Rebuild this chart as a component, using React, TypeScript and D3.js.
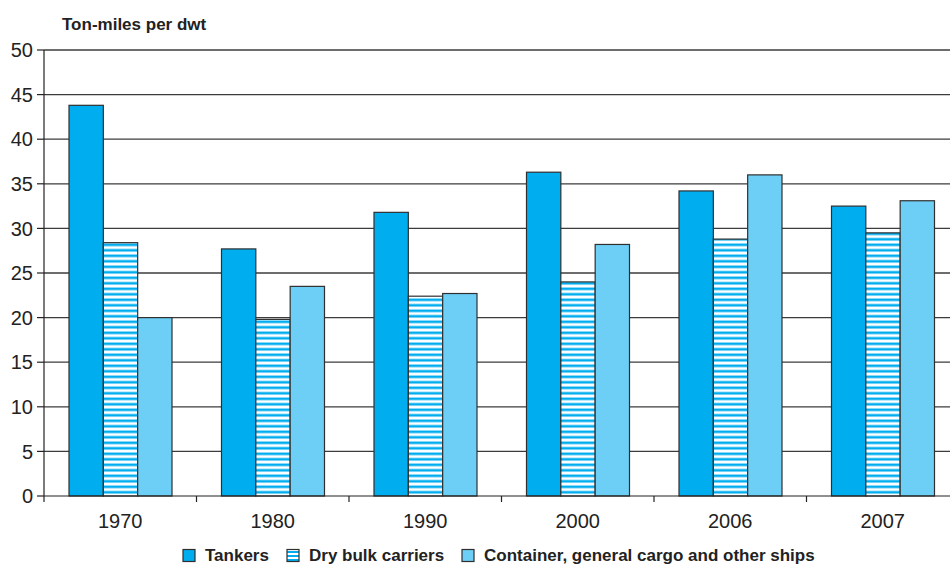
import React from "react";
import { scaleBand, scaleLinear } from "d3";

const years = ["1970", "1980", "1990", "2000", "2006", "2007"];
const tankers = [43.8, 27.7, 31.8, 36.3, 34.2, 32.5];
const dryBulk = [28.4, 19.8, 22.4, 24.0, 28.8, 29.5];
const container = [20.0, 23.5, 22.7, 28.2, 36.0, 33.1];
const seriesNames = ["Tankers", "Dry bulk carriers", "Container, general cargo and other ships"];
const yTicks = [0, 5, 10, 15, 20, 25, 30, 35, 40, 45, 50];

const W = 950;
const H = 569;
const left = 44;
const bottom = 496;
const top = 50;
const FONT = "'Liberation Sans', Arial, Helvetica, sans-serif";
const TANKER = "#00aeef";
const LIGHT = "#6dcff6";
const EDGE = "#2f2f2f";

const App: React.FC = () => {
  const x = scaleBand<string>().domain(years).range([left, left + 6 * 152.5]).padding(0);
  const inner = scaleBand<string>()
    .domain(["t", "d", "c"])
    .range([25, 25 + 103])
    .padding(0);
  const y = scaleLinear().domain([0, 50]).range([bottom, top]);

  const series = [
    { key: "t", values: tankers, fill: TANKER },
    { key: "d", values: dryBulk, fill: "url(#stripes)" },
    { key: "c", values: container, fill: LIGHT },
  ];

  const legendItems = [
    { x: 183, fill: TANKER, label: seriesNames[0] },
    { x: 287, fill: "url(#stripesLegend)", label: seriesNames[1] },
    { x: 462, fill: LIGHT, label: seriesNames[2] },
  ];

  return (
    <svg
      width={W}
      height={H}
      style={{ position: "absolute", left: 0, top: 0, background: "#fff" }}
      fontFamily={FONT}
    >
      <defs>
        <pattern id="stripes" patternUnits="userSpaceOnUse" width={10} height={5.5}>
          <rect width={10} height={5.5} fill="#fff" />
          <rect y={1.5} width={10} height={2.6} fill={TANKER} />
        </pattern>
        <pattern id="stripesLegend" patternUnits="userSpaceOnUse" width={10} height={4} y={550}>
          <rect width={10} height={4} fill="#fff" />
          <rect y={1} width={10} height={2} fill={TANKER} />
        </pattern>
      </defs>

      <text x={62} y={30} fontSize={17} fontWeight="bold" fill="#222">
        Ton-miles per dwt
      </text>

      {/* gridlines + y ticks */}
      {yTicks.map((t) => (
        <g key={t}>
          {t > 0 && (
            <line x1={left} x2={W} y1={y(t)} y2={y(t)} stroke="#3c3c3c" strokeWidth={1.3} />
          )}
          <line x1={37} x2={left} y1={y(t)} y2={y(t)} stroke="#222" strokeWidth={1.2} />
          <text x={33} y={y(t)} dy="0.36em" textAnchor="end" fontSize={20} fill="#222">
            {t}
          </text>
        </g>
      ))}

      {/* bars */}
      {series.map((s) =>
        years.map((yr, i) => (
          <rect
            key={s.key + yr}
            x={(x(yr) ?? 0) + (inner(s.key) ?? 0)}
            y={y(s.values[i])}
            width={inner.bandwidth()}
            height={bottom - y(s.values[i])}
            fill={s.fill}
            stroke={EDGE}
            strokeWidth={1.2}
          />
        ))
      )}

      {/* axes */}
      <line x1={left} x2={left} y1={top} y2={bottom + 6} stroke="#222" strokeWidth={1.2} />
      <line x1={left} x2={W} y1={bottom} y2={bottom} stroke="#222" strokeWidth={1.2} />
      {years.slice(1).map((yr) => (
        <line
          key={"tk" + yr}
          x1={x(yr) ?? 0}
          x2={x(yr) ?? 0}
          y1={bottom}
          y2={bottom + 6}
          stroke="#222"
          strokeWidth={1.2}
        />
      ))}
      {years.map((yr) => (
        <text
          key={"lb" + yr}
          x={(x(yr) ?? 0) + x.bandwidth() / 2}
          y={528}
          textAnchor="middle"
          fontSize={20}
          fill="#222"
        >
          {yr}
        </text>
      ))}

      {/* legend */}
      {legendItems.map((d) => (
        <g key={d.label}>
          <rect x={d.x} y={549.5} width={12} height={12} fill={d.fill} stroke={EDGE} strokeWidth={1.2} />
          <text x={d.x + 22} y={561} fontSize={17} fontWeight="bold" fill="#222">
            {d.label}
          </text>
        </g>
      ))}
    </svg>
  );
};

export default App;
